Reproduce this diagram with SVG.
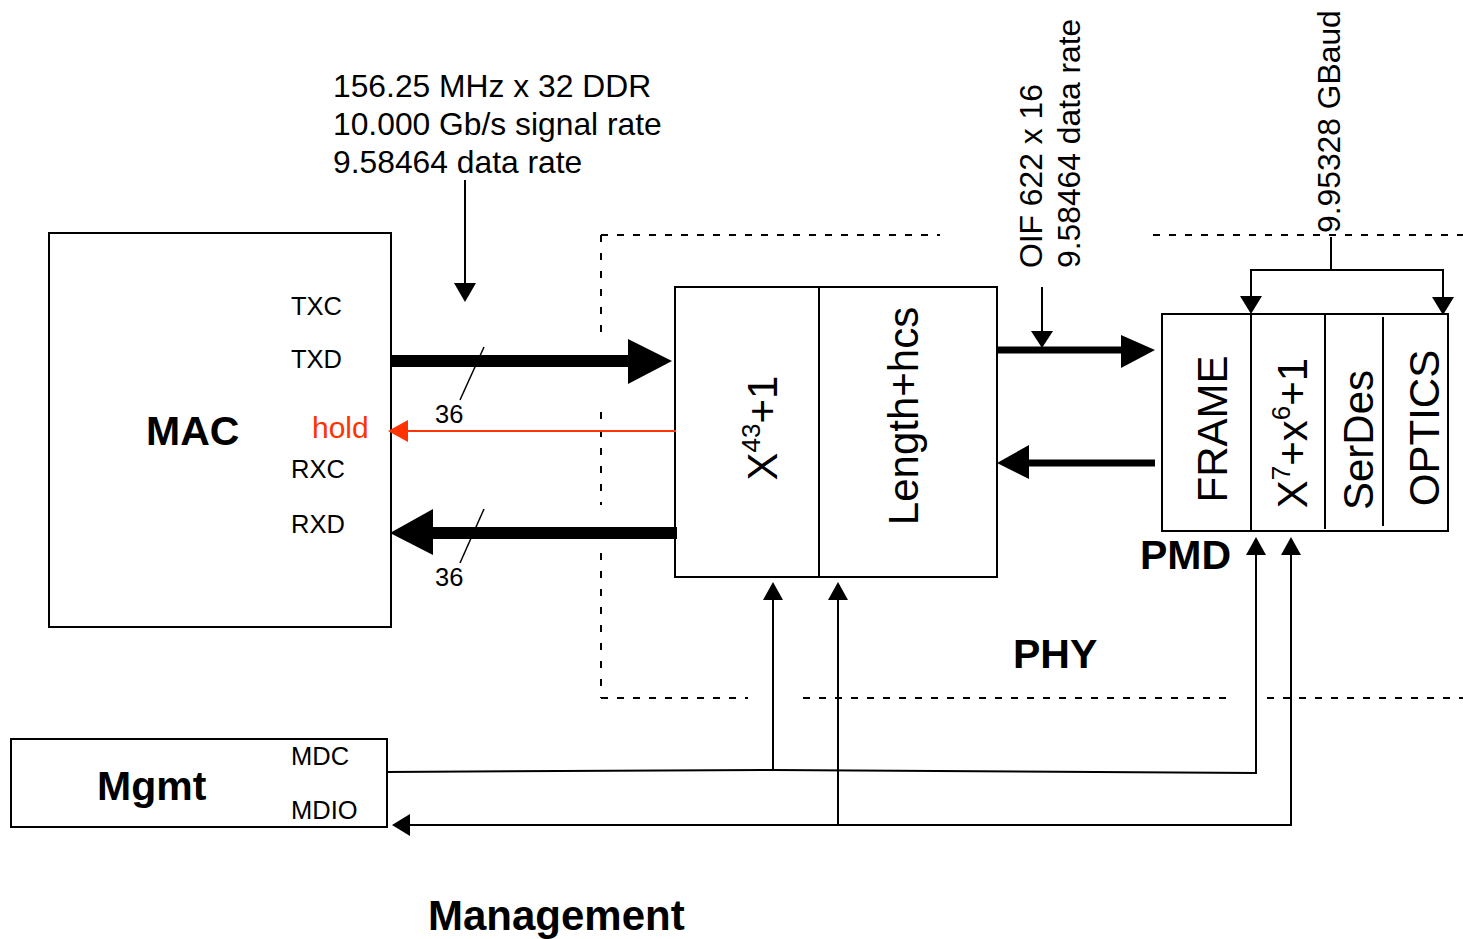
<svg xmlns="http://www.w3.org/2000/svg" width="1463" height="939" viewBox="0 0 1463 939">
<style>
text{font-family:"Liberation Sans",Arial,sans-serif;fill:#000}
.box{fill:#fff;stroke:#000;stroke-width:2}
.ln{stroke:#000;stroke-width:2;fill:none}
.thin{stroke:#000;stroke-width:1.5;fill:none}
.dh{stroke:#000;stroke-width:2;stroke-dasharray:7 9;fill:none}
.dv{stroke:#000;stroke-width:2;stroke-dasharray:7 11;fill:none}
.big{font-size:41px;font-weight:bold}
.sig{font-size:25.5px}
.blk{font-size:42px}
.ann{font-size:31.8px}
.ah{fill:#000}
.red{stroke:#ff3300;stroke-width:2;fill:none}
</style>
<rect width="1463" height="939" fill="#fff"/>
<g id="phy-boundary">
<line class="dh" x1="601" y1="235" x2="940" y2="235"/>
<line class="dh" x1="1153" y1="235" x2="1463" y2="235"/>
<line class="dv" x1="601" y1="235" x2="601" y2="343"/>
<line class="dv" x1="601" y1="412" x2="601" y2="505"/>
<line class="dv" x1="601" y1="553" x2="601" y2="698"/>
<line class="dh" x1="601" y1="698" x2="748" y2="698"/>
<line class="dh" x1="803" y1="698" x2="1226" y2="698"/>
<line class="dh" x1="1267" y1="698" x2="1463" y2="698"/>
<text class="big" x="1013" y="668">PHY</text>
</g>
<g id="mac">
<rect class="box" x="49" y="233" width="342" height="394"/>
<text class="big" x="146" y="445">MAC</text>
<text class="sig" x="291" y="315">TXC</text>
<text class="sig" x="291" y="368">TXD</text>
<text x="312" y="438" style="font-size:30px;fill:#ff3300">hold</text>
<text class="sig" x="291" y="478">RXC</text>
<text class="sig" x="291" y="533">RXD</text>
</g>
<g id="mgmt">
<rect class="box" x="11" y="739" width="376" height="88"/>
<text class="big" x="97" y="800">Mgmt</text>
<text class="sig" x="291" y="765">MDC</text>
<text class="sig" x="291" y="819">MDIO</text>
</g>
<g id="pcs">
<rect class="box" x="675" y="287" width="322" height="290"/>
<line class="ln" x1="819" y1="287" x2="819" y2="577"/>
<text class="blk" transform="translate(777,428) rotate(-90)" text-anchor="middle">X<tspan font-size="26" dy="-17">43</tspan><tspan dy="17">+1</tspan></text>
<text class="blk" transform="translate(918,416) rotate(-90)" text-anchor="middle">Length+hcs</text>
</g>
<g id="pmd">
<rect class="box" x="1162" y="314" width="286" height="217"/>
<line class="ln" x1="1251" y1="314" x2="1251" y2="531"/>
<line class="ln" x1="1325" y1="314" x2="1325" y2="529"/>
<line class="ln" x1="1383" y1="317" x2="1383" y2="526"/>
<text class="blk" transform="translate(1227,429) rotate(-90)" text-anchor="middle">FRAME</text>
<text class="blk" transform="translate(1307,433) rotate(-90)" text-anchor="middle">X<tspan font-size="26" dy="-17">7</tspan><tspan dy="17">+x</tspan><tspan font-size="26" dy="-17">6</tspan><tspan dy="17">+1</tspan></text>
<text class="blk" transform="translate(1373,440) rotate(-90)" text-anchor="middle">SerDes</text>
<text class="blk" transform="translate(1439,428) rotate(-90)" text-anchor="middle">OPTICS</text>
<text class="big" x="1140" y="569">PMD</text>
</g>
<g id="labels">
<text class="ann" x="333" y="97">156.25 MHz x 32 DDR</text>
<text class="ann" x="333" y="135">10.000 Gb/s signal rate</text>
<text class="ann" x="333" y="173">9.58464 data rate</text>
<text class="ann" transform="translate(1042,268) rotate(-90)">OIF 622 x 16</text>
<text class="ann" transform="translate(1080,268) rotate(-90)">9.58464 data rate</text>
<text class="ann" transform="translate(1340,233) rotate(-90)">9.95328 GBaud</text>
<text x="428" y="930" style="font-size:42px;font-weight:bold">Management</text>
</g>
<g id="connectors">
<line x1="390" y1="361" x2="630" y2="361" stroke="#000" stroke-width="12"/>
<polygon class="ah" points="672,361 628,339 628,384"/>
<line x1="677" y1="533" x2="430" y2="533" stroke="#000" stroke-width="12"/>
<polygon class="ah" points="390,533 433,509 433,555"/>
<line class="thin" x1="484" y1="347" x2="460" y2="400"/>
<text class="sig" x="435" y="423">36</text>
<line class="thin" x1="484" y1="509" x2="460" y2="563"/>
<text class="sig" x="435" y="586">36</text>
<line class="red" x1="676" y1="431" x2="404" y2="431"/>
<polygon fill="#ff3300" points="388,431 408,420 408,442"/>
<line class="ln" x1="465" y1="180" x2="465" y2="286"/>
<polygon class="ah" points="465,302 454,283 476,283"/>
<line x1="997" y1="350" x2="1123" y2="350" stroke="#000" stroke-width="7"/>
<polygon class="ah" points="1155,350 1121,335 1121,368"/>
<line x1="1155" y1="463" x2="1027" y2="463" stroke="#000" stroke-width="7"/>
<polygon class="ah" points="997,463 1029,445 1029,479"/>
<line class="ln" x1="1042" y1="287" x2="1042" y2="334"/>
<polygon class="ah" points="1042,348 1031,331 1053,331"/>
<polyline class="ln" points="1331,237 1331,270"/>
<polyline class="ln" points="1251,298 1251,270 1443,270 1443,298"/>
<polygon class="ah" points="1251,314 1240,296 1262,296"/>
<polygon class="ah" points="1443,315 1432,297 1454,297"/>
<polyline class="ln" points="386,772 773,770 1256,773 1256,553"/>
<line class="ln" x1="773" y1="770" x2="773" y2="598"/>
<polygon class="ah" points="773,582 763,600 783,600"/>
<polygon class="ah" points="1256,537 1246,555 1266,555"/>
<polyline class="ln" points="1291,553 1291,825 408,825"/>
<polygon class="ah" points="1291,537 1281,555 1301,555"/>
<polygon class="ah" points="392,825 410,814 410,836"/>
<line class="ln" x1="838" y1="825" x2="838" y2="598"/>
<polygon class="ah" points="838,582 828,600 848,600"/>
</g>
</svg>
